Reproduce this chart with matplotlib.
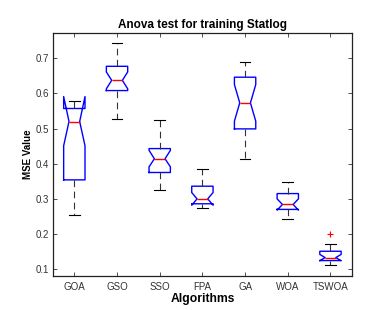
import matplotlib
matplotlib.use('Agg')
from matplotlib import pyplot as plt

plt.rcParams['font.family'] = ['Liberation Sans', 'DejaVu Sans']

# values (MSE per algorithm)
algorithms = ['GOA', 'GSO', 'SSO', 'FPA', 'GA', 'WOA', 'TSWOA']
medians = [0.520, 0.637, 0.414, 0.300, 0.573, 0.284, 0.133]
q1 = [0.354, 0.608, 0.375, 0.286, 0.499, 0.270, 0.1245]
q3 = [0.557, 0.677, 0.443, 0.336, 0.646, 0.315, 0.151]
whisk_lo = [0.253, 0.527, 0.3255, 0.2745, 0.414, 0.243, 0.1115]
whisk_hi = [0.579, 0.7435, 0.524, 0.386, 0.690, 0.349, 0.171]
notch_lo = [0.451, 0.613, 0.391, 0.282, 0.521, 0.268, 0.124]
notch_hi = [0.591, 0.661, 0.438, 0.318, 0.625, 0.300, 0.142]
outliers = [[], [], [], [], [], [], [0.199]]

stats = []
for i, name in enumerate(algorithms):
    stats.append({
        'label': name,
        'med': medians[i],
        'q1': q1[i],
        'q3': q3[i],
        'whislo': whisk_lo[i],
        'whishi': whisk_hi[i],
        'cilo': notch_lo[i],
        'cihi': notch_hi[i],
        'fliers': outliers[i],
    })

fig = plt.figure(figsize=(3.68, 3.10), dpi=100)
ax = fig.add_axes([0.144, 0.109, 0.812, 0.786])

ax.bxp(stats, widths=0.5, shownotches=True,
       boxprops=dict(color='blue', linewidth=1.0),
       medianprops=dict(color='red', linewidth=1.0),
       whiskerprops=dict(color='#333333', linewidth=0.8, linestyle=(0, (6, 4))),
       capprops=dict(color='black', linewidth=0.8),
       flierprops=dict(marker='+', markeredgecolor='red', markersize=5,
                       markeredgewidth=0.8, linestyle='none'))

ax.set_xlim(0.5, 7.5)
ax.set_ylim(0.08, 0.773)
ax.set_yticks([0.1, 0.2, 0.3, 0.4, 0.5, 0.6, 0.7])
ax.set_xticks(range(1, len(algorithms) + 1))
ax.set_xticklabels(algorithms)

ax.tick_params(direction='in', length=3, width=0.6, labelsize=7,
               top=True, right=True, pad=3, colors='#333333')
ax.tick_params(axis='x', pad=4)
for sp in ax.spines.values():
    sp.set_linewidth(0.9)
    sp.set_color('#222222')

ax.set_title('Anova test for training Statlog', fontsize=8.5,
             fontweight='bold', pad=3)
ax.set_xlabel('Algorithms', fontsize=8.7, fontweight='bold', labelpad=1)
ax.set_ylabel('MSE Value', fontsize=7, fontweight='bold', labelpad=2)

fig.savefig('out.png', dpi=100)
